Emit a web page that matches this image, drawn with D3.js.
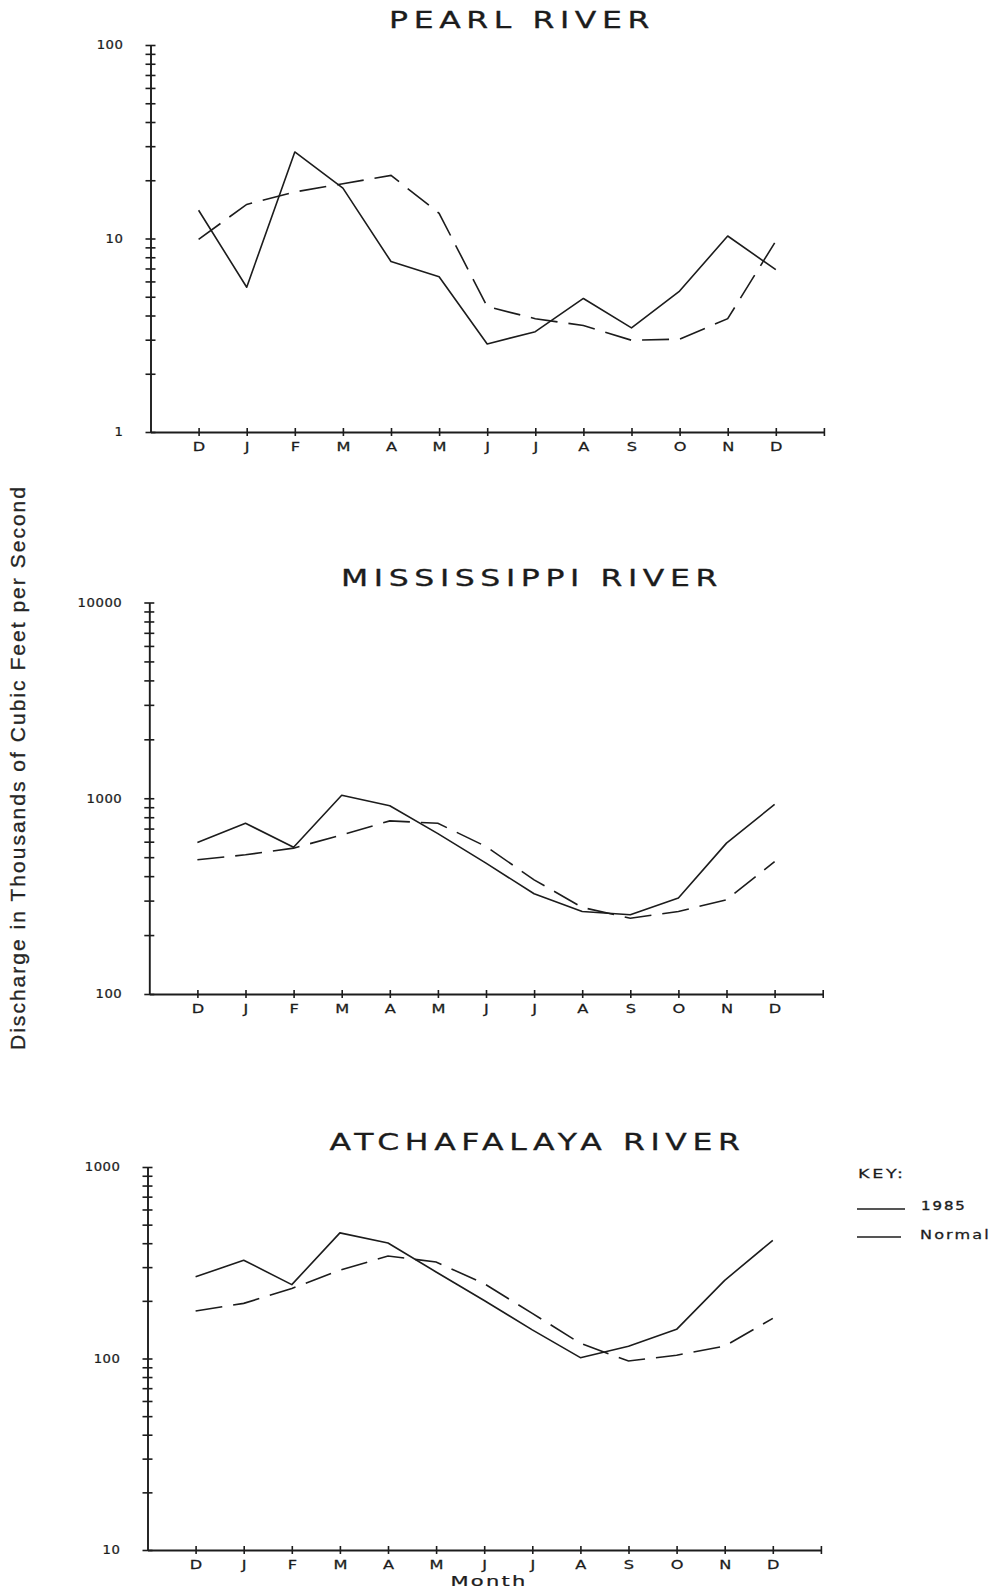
<!DOCTYPE html>
<html>
<head>
<meta charset="utf-8">
<script src="https://cdn.jsdelivr.net/npm/d3@7"></script>
<style>
  body { margin: 0; background: #fff; }
  svg { display: block; }
</style>
</head>
<body>
<svg id="chart" width="1001" height="1590"></svg>
<script>
// Month labels along each x axis (December through the following December)
const months = ["D", "J", "F", "M", "A", "M", "J", "J", "A", "S", "O", "N", "D"];

// Mean monthly discharge, thousands of cubic feet per second
const pearl1985   = [14.0, 5.6, 28.0, 18.2, 7.6, 6.35, 2.85, 3.3, 4.9, 3.45, 5.35, 10.3, 6.9];
const pearlNormal = [9.9, 15.0, 17.4, 19.2, 21.2, 13.5, 4.45, 3.85, 3.55, 2.98, 3.02, 3.85, 9.7];

const miss1985    = [594, 745, 562, 1035, 915, 660, 466, 325, 264, 254, 309, 590, 930];
const missNormal  = [485, 514, 556, 650, 766, 745, 567, 383, 277, 244, 264, 303, 475];

const atch1985    = [267, 326, 243, 453, 401, 283, 201, 141, 101, 116, 142, 256, 414];
const atchNormal  = [177, 194, 232, 289, 343, 319, 246, 172, 120, 97, 104, 116, 162];

// Labelled decades on each logarithmic y axis
const pearlDecades = [1, 10, 100];
const missDecades  = [100, 1000, 10000];
const atchDecades  = [10, 100, 1000];

const titles = ["PEARL RIVER", "MISSISSIPPI RIVER", "ATCHAFALAYA RIVER"];
const legendLabels = ["1985", "Normal"];
const yLabel = "Discharge in Thousands of Cubic Feet per Second";
const xLabel = "Month";

// ---------------------------------------------------------------------------
const INK = "#1c1c1c";
const FONT = "'DejaVu Sans', sans-serif";
const STEP = 48.1;              // spacing between month ticks

const svg = d3.select("#chart");

// Extended-width lettering: draws at (x, y) and stretches glyphs horizontally
function wideText(parent, x, y, str, size, spacing, anchor, sx, weight) {
  return parent.append("text")
    .attr("transform", `translate(${x},${y}) scale(${sx},1)`)
    .attr("text-anchor", anchor)
    .attr("font-family", FONT)
    .attr("font-size", size)
    .attr("letter-spacing", spacing)
    .attr("fill", INK)
    .attr("stroke", INK)
    .attr("stroke-width", weight)
    .text(str);
}

const panels = [
  { title: titles[0], a: pearl1985, b: pearlNormal, decades: pearlDecades,
    left: 150.5, top: 45, bottom: 432, titleX: 522, titleY: 28 },
  { title: titles[1], a: miss1985, b: missNormal, decades: missDecades,
    left: 149.3, top: 602.5, bottom: 994, titleX: 532, titleY: 586 },
  { title: titles[2], a: atch1985, b: atchNormal, decades: atchDecades,
    left: 147.5, top: 1167, bottom: 1550, titleX: 537.5, titleY: 1150 }
];

panels.forEach(p => {
  const g = svg.append("g");

  const x = d3.scaleLinear().domain([0, 14]).range([p.left, p.left + 14 * STEP]);
  const y = d3.scaleLog()
    .domain([p.decades[0], p.decades[p.decades.length - 1]])
    .range([p.bottom, p.top]);

  // every 1..9 multiple of each decade, plus the top decade
  const tickVals = [];
  p.decades.forEach((d, i) => {
    if (i === p.decades.length - 1) { tickVals.push(d); return; }
    for (let k = 1; k <= 9; k++) tickVals.push(k * d);
  });

  // y axis: ticks straddle the axis line
  const yAxis = d3.axisLeft(y)
    .tickValues(tickVals)
    .tickSize(0)
    .tickSizeOuter(0)
    .tickFormat(d => p.decades.includes(d) ? String(d) : "");

  g.append("g")
    .attr("transform", `translate(${p.left},0)`)
    .call(yAxis)
    .call(a => a.select(".domain").attr("stroke", INK).attr("stroke-width", 1.9))
    .call(a => a.selectAll(".tick line")
      .attr("stroke", INK).attr("stroke-width", 1.6)
      .attr("x1", -5).attr("x2", 5))
    .call(a => a.selectAll(".tick text")
      .attr("font-family", FONT)
      .attr("font-size", 12)
      .attr("letter-spacing", 0.5)
      .attr("fill", INK)
      .attr("stroke", INK)
      .attr("stroke-width", 0.25)
      .attr("x", -27 / 1.1)
      .attr("transform", "scale(1.1,1)"));

  // x axis: month ticks 1..13, closing tick at 14
  const xAxis = d3.axisBottom(x)
    .tickValues(d3.range(1, 15))
    .tickSize(0)
    .tickSizeOuter(0)
    .tickFormat(i => months[i - 1] ?? "");

  g.append("g")
    .attr("transform", `translate(0,${p.bottom})`)
    .call(xAxis)
    .call(a => a.select(".domain").attr("stroke", INK).attr("stroke-width", 1.9))
    .call(a => a.selectAll(".tick line")
      .attr("stroke", INK).attr("stroke-width", 1.6)
      .attr("y1", -4).attr("y2", 4))
    .call(a => a.selectAll(".tick text")
      .attr("font-family", FONT)
      .attr("font-size", 12)
      .attr("fill", INK)
      .attr("stroke", INK)
      .attr("stroke-width", 0.25)
      .attr("y", 19)
      .attr("dy", 0)
      .attr("transform", "scale(1.35,1)"));

  const line = d3.line()
    .x((d, i) => x(i + 1))
    .y(d => y(d));

  // 1985 (solid)
  g.append("path")
    .datum(p.a)
    .attr("d", line)
    .attr("fill", "none")
    .attr("stroke", INK)
    .attr("stroke-width", 1.6)
    .attr("stroke-linejoin", "round");

  // long-term normal (long dashes)
  g.append("path")
    .datum(p.b)
    .attr("d", line)
    .attr("fill", "none")
    .attr("stroke", INK)
    .attr("stroke-width", 1.6)
    .attr("stroke-dasharray", "27,11");

  wideText(g, p.titleX, p.titleY, p.title, 22.5, 4, "middle", 1.4, 0.3);
});

// shared y-axis title
svg.append("text")
  .attr("transform", "translate(25,768.5) rotate(-90)")
  .attr("text-anchor", "middle")
  .attr("font-family", "'Liberation Sans', Arial, sans-serif")
  .attr("font-size", 21)
  .attr("fill", "#252525")
  .attr("stroke", "#252525")
  .attr("stroke-width", 0.3)
  .attr("textLength", 563)
  .attr("lengthAdjust", "spacing")
  .text(yLabel);

// shared x-axis title under the bottom panel
wideText(svg, 489, 1586, xLabel, 14, 1.5, "middle", 1.5, 0.25);

// key
const key = svg.append("g");
wideText(key, 858, 1178, "KEY:", 13, 2, "start", 1.35, 0.25);
key.append("line").attr("x1", 857).attr("x2", 905).attr("y1", 1209).attr("y2", 1209)
  .attr("stroke", INK).attr("stroke-width", 1.5);
key.append("line").attr("x1", 857).attr("x2", 901).attr("y1", 1237).attr("y2", 1237)
  .attr("stroke", INK).attr("stroke-width", 1.5);
wideText(key, 921, 1210, legendLabels[0], 11.5, 1.5, "start", 1.3, 0.35);
wideText(key, 920, 1239, legendLabels[1], 11.5, 1.5, "start", 1.4, 0.25);
</script>
</body>
</html>
